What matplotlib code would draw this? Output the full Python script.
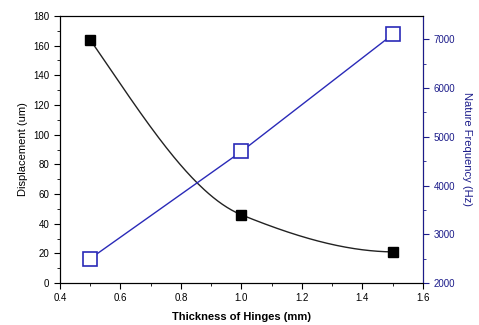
import matplotlib.pyplot as plt
import numpy as np
from matplotlib.ticker import MultipleLocator

plt.rcParams['font.family'] = ['Liberation Sans', 'DejaVu Sans']

thickness = [0.5, 1.0, 1.5]
displacement = [164, 46, 21]
frequency = [2500, 4700, 7100]

BLUE = "#2a2ab8"
NAVY = "#1c1c8a"


def smooth(x, y, n=200):
    # monotone cubic hermite through the points, just for the drawn line
    x = np.asarray(x, float)
    y = np.asarray(y, float)
    d = np.diff(y) / np.diff(x)
    m = np.empty_like(y)
    m[1:-1] = np.where(d[:-1] * d[1:] > 0, 2 / (1 / d[:-1] + 1 / d[1:]), 0)
    m[0] = d[0] * 1.25
    m[-1] = d[-1] * 0.05
    xs = np.linspace(x[0], x[-1], n)
    i = np.clip(np.searchsorted(x, xs) - 1, 0, len(x) - 2)
    h = x[i + 1] - x[i]
    t = (xs - x[i]) / h
    h00 = 2 * t**3 - 3 * t**2 + 1
    h10 = t**3 - 2 * t**2 + t
    h01 = -2 * t**3 + 3 * t**2
    h11 = t**3 - t**2
    ys = h00 * y[i] + h10 * h * m[i] + h01 * y[i + 1] + h11 * h * m[i + 1]
    return xs, ys


fig = plt.figure(figsize=(4.79, 3.25), dpi=100)
ax = fig.add_axes([0.125, 0.129, 0.758, 0.822])
ax2 = ax.twinx()

xs, ys = smooth(thickness, displacement)
ax.plot(xs, ys, color="#222222", lw=1.0)
ax.plot(thickness, displacement, "s", color="black", ms=6.5)

ax2.plot(thickness, frequency, "-", color=BLUE, lw=1.0)
ax2.plot(thickness, frequency, "s", mfc="white", mec=BLUE, mew=1.2, ms=10)

ax.set_xlim(0.4, 1.6)
ax.set_ylim(0, 180)
ax2.set_ylim(2000, 7480)

ax.xaxis.set_major_locator(MultipleLocator(0.2))
ax.xaxis.set_minor_locator(MultipleLocator(0.1))
ax.yaxis.set_major_locator(MultipleLocator(20))
ax.yaxis.set_minor_locator(MultipleLocator(10))
ax2.yaxis.set_major_locator(MultipleLocator(1000))
ax2.yaxis.set_minor_locator(MultipleLocator(500))

ax.tick_params(axis="both", which="both", direction="out", labelsize=7)
ax.tick_params(which="major", length=4)
ax.tick_params(which="minor", length=2)
ax.xaxis.set_major_formatter(plt.FuncFormatter(lambda v, p: f"{v:.1f}"))

ax2.tick_params(axis="y", which="both", direction="out", colors=NAVY, labelsize=7)
ax2.tick_params(which="major", length=4)
ax2.tick_params(which="minor", length=2)
ax2.spines["right"].set_color(NAVY)

ax.set_xlabel("Thickness of Hinges (mm)", fontsize=8, fontweight="bold", labelpad=6)
ax.set_ylabel("Displacement (um)", fontsize=8, labelpad=4)
ax2.set_ylabel("Nature Frequency (Hz)", fontsize=8, color=NAVY, rotation=-90, labelpad=12)

fig.savefig("out.png", dpi=100)
